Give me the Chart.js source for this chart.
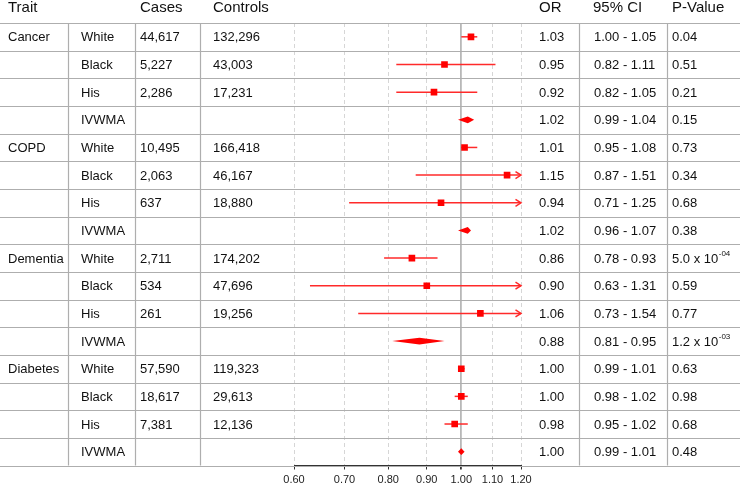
<!DOCTYPE html>
<html>
<head>
<meta charset="utf-8">
<script src="https://cdn.jsdelivr.net/npm/chart.js@4.4.1/dist/chart.umd.min.js"></script>
<style>
    html, body { margin: 0; padding: 0; background: #fff; }
    #wrap { width: 740px; height: 483px; }
</style>
</head>
<body>
<div id="wrap"><canvas id="forestChart" width="740" height="483"></canvas></div>
<script>
// Forest plot data - one entry per row, top to bottom
const traits = ['Cancer', 'COPD', 'Dementia', 'Diabetes'];
const groups = ['White', 'Black', 'His', 'IVWMA'];
const cases = [44617, 5227, 2286, null, 10495, 2063, 637, null, 2711, 534, 261, null, 57590, 18617, 7381, null];
const controls = [132296, 43003, 17231, null, 166418, 46167, 18880, null, 174202, 47696, 19256, null, 119323, 29613, 12136, null];
const oddsRatios = [1.03, 0.95, 0.92, 1.02, 1.01, 1.15, 0.94, 1.02, 0.86, 0.90, 1.06, 0.88, 1.00, 1.00, 0.98, 1.00];
// CI as printed in the table
const ciLabels = ['1.00 - 1.05', '0.82 - 1.11', '0.82 - 1.05', '0.99 - 1.04',
                  '0.95 - 1.08', '0.87 - 1.51', '0.71 - 1.25', '0.96 - 1.07',
                  '0.78 - 0.93', '0.63 - 1.31', '0.73 - 1.54', '0.81 - 0.95',
                  '0.99 - 1.01', '0.98 - 1.02', '0.95 - 1.02', '0.99 - 1.01'];
const lowerCI = [1.00, 0.82, 0.82, 0.99, 1.00, 0.87, 0.71, 0.99, 0.79, 0.63, 0.73, 0.81, 0.99, 0.98, 0.95, 0.99];
const upperCI = [1.05, 1.11, 1.05, 1.04, 1.05, 1.51, 1.25, 1.03, 0.93, 1.31, 1.54, 0.95, 1.01, 1.02, 1.02, 1.01];
const pValues = [0.04, 0.51, 0.21, 0.15, 0.73, 0.34, 0.68, 0.38, 5.0e-4, 0.59, 0.77, 1.2e-3, 0.63, 0.98, 0.68, 0.48];
const xTicks = [0.6, 0.7, 0.8, 0.9, 1.0, 1.1, 1.2];

const FONT = '"Liberation Sans", Arial, sans-serif';
const RED = '#ff0000';
const LINE_GREY = '#aeaeae';
const nRows = groups.length * traits.length;

// x positions of the table columns
const colText = { trait: 8, group: 81, cases: 140, controls: 213, or: 539, ci: 594, p: 672 };
const colLines = [68, 135, 200, 579, 667];

function isPooled(i) {
    return groups[i % groups.length] === 'IVWMA';
}

function fmtNum(v) {
    return v == null ? '' : v.toLocaleString('en-US');
}

// Build square-marker points (pooled rows get a diamond instead)
const squarePoints = [];
oddsRatios.forEach((v, i) => {
    if (!isPooled(i)) squarePoints.push({ x: v, y: i });
});

const forestPlugin = {
    id: 'forestPlugin',
    beforeDraw(chart) {
        const ctx = chart.ctx;
        ctx.save();
        ctx.fillStyle = '#fff';
        ctx.fillRect(0, 0, chart.width, chart.height);
        ctx.restore();
    },
    beforeDatasetsDraw(chart) {
        const ctx = chart.ctx;
        const xs = chart.scales.x;
        const ys = chart.scales.y;

        ctx.save();
        // row lines
        ctx.strokeStyle = LINE_GREY;
        ctx.lineWidth = 1.2;
        for (let k = 0; k <= nRows; k++) {
            const y = Math.round(ys.getPixelForValue(k - 0.5)) + 0.5;
            ctx.beginPath();
            ctx.moveTo(0, y);
            ctx.lineTo(chart.width, y);
            ctx.stroke();
        }
        // column lines
        const top = ys.getPixelForValue(-0.5);
        const bottom = ys.getPixelForValue(nRows - 0.5);
        colLines.forEach(x => {
            ctx.beginPath();
            ctx.moveTo(x + 0.5, top);
            ctx.lineTo(x + 0.5, bottom);
            ctx.stroke();
        });

        // CI whiskers, arrows and pooled diamonds
        const xMin = xs.min, xMax = xs.max;
        ctx.strokeStyle = '#ff2a2a';
        ctx.fillStyle = RED;
        ctx.lineWidth = 1.5;
        oddsRatios.forEach((or, i) => {
            const y = ys.getPixelForValue(i);
            const x1 = xs.getPixelForValue(Math.max(lowerCI[i], xMin));
            const x2 = xs.getPixelForValue(Math.min(upperCI[i], xMax));
            if (isPooled(i)) {
                const xm = xs.getPixelForValue(or);
                ctx.beginPath();
                ctx.moveTo(x1, y);
                ctx.lineTo(xm, y - 3.4);
                ctx.lineTo(x2, y);
                ctx.lineTo(xm, y + 3.4);
                ctx.closePath();
                ctx.fill();
                return;
            }
            ctx.beginPath();
            ctx.moveTo(x1, y);
            ctx.lineTo(x2, y);
            ctx.stroke();
            if (upperCI[i] > xMax) {
                ctx.beginPath();
                ctx.moveTo(x2 - 5.5, y - 3.5);
                ctx.lineTo(x2, y);
                ctx.lineTo(x2 - 5.5, y + 3.5);
                ctx.stroke();
            }
        });
        ctx.restore();
    },
    afterDraw(chart) {
        const ctx = chart.ctx;
        const ys = chart.scales.y;
        ctx.save();
        ctx.fillStyle = '#111';
        ctx.textBaseline = 'middle';

        // header
        ctx.font = '15px ' + FONT;
        const hy = 8;
        ctx.fillText('Trait', colText.trait, hy);
        ctx.fillText('Cases', colText.cases, hy);
        ctx.fillText('Controls', colText.controls, hy);
        ctx.fillText('OR', colText.or, hy);
        ctx.fillText('95% CI', colText.ci - 1, hy);
        ctx.fillText('P-Value', colText.p, hy);

        // body
        for (let i = 0; i < nRows; i++) {
            const y = ys.getPixelForValue(i) + 1;
            ctx.font = '13px ' + FONT;
            if (i % groups.length === 0) ctx.fillText(traits[i / groups.length], colText.trait, y);
            ctx.fillText(groups[i % groups.length], colText.group, y);
            ctx.fillText(fmtNum(cases[i]), colText.cases, y);
            ctx.fillText(fmtNum(controls[i]), colText.controls, y);
            ctx.fillText(oddsRatios[i].toFixed(2), colText.or, y);
            ctx.fillText(ciLabels[i], colText.ci, y);

            const p = pValues[i];
            if (p >= 0.01) {
                ctx.fillText(p.toFixed(2), colText.p, y);
            } else {
                const exp = Math.floor(Math.log10(p));
                const mant = (p / Math.pow(10, exp)).toFixed(1);
                const base = mant + ' x 10';
                ctx.fillText(base, colText.p, y);
                const w = ctx.measureText(base).width;
                ctx.font = '8px ' + FONT;
                ctx.fillText('-' + String(-exp).padStart(2, '0'), colText.p + w + 0.5, y - 5);
            }
        }
        ctx.restore();
    }
};

new Chart(document.getElementById('forestChart'), {
    type: 'scatter',
    data: {
        datasets: [{
            data: squarePoints,
            pointStyle: 'rect',
            pointRadius: 4.7,
            pointHoverRadius: 4.7,
            backgroundColor: RED,
            borderWidth: 0
        }]
    },
    options: {
        responsive: false,
        animation: false,
        events: [],
        layout: { padding: { left: 294, right: 219, top: 23, bottom: 0 } },
        plugins: {
            legend: { display: false },
            tooltip: { enabled: false }
        },
        scales: {
            x: {
                type: 'logarithmic',
                min: 0.6,
                max: 1.2,
                afterBuildTicks: scale => {
                    scale.ticks = xTicks.map(v => ({ value: v }));
                },
                afterFit: scale => {
                    scale.height = 17.5;
                },
                ticks: {
                    autoSkip: false,
                    maxRotation: 0,
                    padding: 4,
                    color: '#222',
                    font: { size: 11, family: FONT },
                    callback: v => Number(v).toFixed(2)
                },
                grid: {
                    color: c => (c.tick && c.tick.value === 1) ? '#b8b8b8' : '#d6d6d6',
                    lineWidth: c => (c.tick && c.tick.value === 1) ? 1.8 : 1,
                    tickColor: '#333',
                    tickLength: 4
                },
                border: {
                    display: true,
                    color: '#333',
                    width: 1,
                    dash: c => (c.tick && c.tick.value !== 1) ? [4, 3] : []
                }
            },
            y: {
                type: 'linear',
                min: -0.5,
                max: nRows - 0.5,
                reverse: true,
                display: false
            }
        }
    },
    plugins: [forestPlugin]
});
</script>
</body>
</html>
